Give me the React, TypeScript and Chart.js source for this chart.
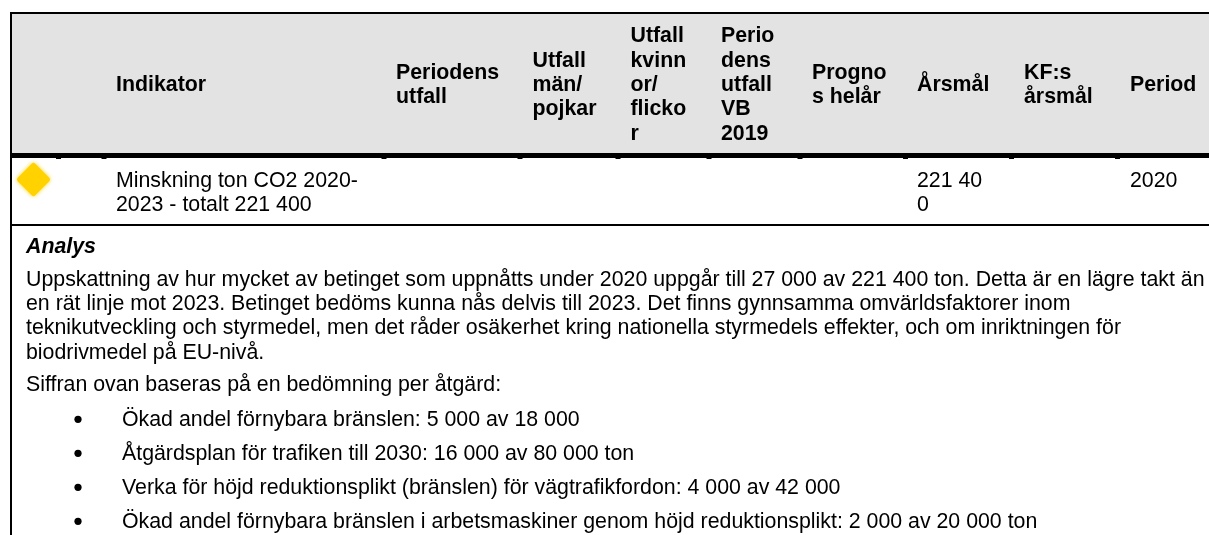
import React, { useEffect, useRef } from "react";
import { Chart, registerables } from "chart.js";

Chart.register(...registerables);

const FONT = '"Liberation Sans", Arial, sans-serif';

const headerLabels = [
  ["Indikator"],
  ["Periodens", "utfall"],
  ["Utfall", "män/", "pojkar"],
  ["Utfall", "kvinn", "or/", "flicko", "r"],
  ["Perio", "dens", "utfall", "VB", "2019"],
  ["Progno", "s helår"],
  ["Årsmål"],
  ["KF:s", "årsmål"],
  ["Period"],
];
const headerX = [116, 396, 532.5, 630.5, 721, 812, 917, 1024, 1130];
const columnTicks = [58.5, 104, 384, 520, 618, 709, 800, 905.5, 1011.5, 1117.5];

const rowIndicator = ["Minskning ton CO2 2020-", "2023 - totalt 221 400"];
const rowGoal = ["221 40", "0"];
const rowPeriod = ["2020"];
const statusPoint = [{ x: 0, y: 0 }];

const analysisTitle = "Analys";
const analysisParagraph = [
  "Uppskattning av hur mycket av betinget som uppnåtts under 2020 uppgår till 27 000 av 221 400 ton. Detta är en lägre takt än",
  "en rät linje mot 2023. Betinget bedöms kunna nås delvis till 2023. Det finns gynnsamma omvärldsfaktorer inom",
  "teknikutveckling och styrmedel, men det råder osäkerhet kring nationella styrmedels effekter, och om inriktningen för",
  "biodrivmedel på EU-nivå.",
];
const basisIntro = "Siffran ovan baseras på en bedömning per åtgärd:";
const bullets = [
  "Ökad andel förnybara bränslen: 5 000 av 18 000",
  "Åtgärdsplan för trafiken till 2030: 16 000 av 80 000 ton",
  "Verka för höjd reduktionsplikt (bränslen) för vägtrafikfordon: 4 000 av 42 000",
  "Ökad andel förnybara bränslen i arbetsmaskiner genom höjd reduktionsplikt: 2 000 av 20 000 ton",
];

const tablePlugin = {
  id: "tablePlugin",
  beforeDatasetsDraw(chart: any) {
    const c = chart.ctx;
    c.save();
    c.fillStyle = "#e3e3e3";
    c.fillRect(11, 13, 1198, 141);
    c.fillStyle = "#000";
    c.fillRect(10, 12, 1199, 2);
    c.fillRect(10, 153, 1199, 5);
    c.fillRect(10, 224, 1199, 2);
    c.fillRect(10, 12, 2, 523);
    columnTicks.forEach((x) => c.fillRect(x - 2.5, 158, 5, 1));
    c.restore();
    c.save();
    c.lineJoin = "round";
    c.shadowColor = "rgba(255,210,0,0.8)";
    c.shadowBlur = 4;
  },
  afterDatasetsDraw(chart: any) {
    chart.ctx.restore();
  },
  afterDraw(chart: any) {
    const c = chart.ctx;
    c.save();
    c.fillStyle = "#000";
    c.textBaseline = "alphabetic";
    c.textAlign = "left";
    const size = 21.33;
    const lead = 24.4;
    const centerY = 91;
    c.font = `bold ${size}px ${FONT}`;
    headerLabels.forEach((lines, i) => {
      const top = centerY - ((lines.length - 1) * lead) / 2;
      lines.forEach((t, j) => c.fillText(t, headerX[i], top + j * lead));
    });
    c.font = `${size}px ${FONT}`;
    rowIndicator.forEach((t, j) => c.fillText(t, 116, 187 + j * 24));
    rowGoal.forEach((t, j) => c.fillText(t, 917, 187 + j * 24));
    rowPeriod.forEach((t, j) => c.fillText(t, 1130, 187 + j * 24));
    c.font = `italic bold ${size}px ${FONT}`;
    c.fillText(analysisTitle, 26, 253);
    c.font = `${size}px ${FONT}`;
    analysisParagraph.forEach((t, j) => c.fillText(t, 26, 286 + j * 24.2));
    c.fillText(basisIntro, 26, 391);
    bullets.forEach((t, j) => {
      const y = 426 + j * 34;
      c.beginPath();
      c.arc(78, y - 6.7, 3.6, 0, Math.PI * 2);
      c.fill();
      c.fillText(t, 122, y);
    });
    c.restore();
  },
};

export default function App() {
  const ref = useRef<HTMLCanvasElement>(null);
  useEffect(() => {
    const chart = new Chart(ref.current!, {
      type: "scatter",
      data: {
        datasets: [
          {
            data: statusPoint,
            pointStyle: "rectRot",
            pointRadius: 14,
            pointBackgroundColor: "#ffd200",
            pointBorderWidth: 5,
            pointBorderColor: "#ffd200",
          },
        ],
      },
      options: {
        animation: false,
        responsive: false,
        layout: { padding: 0, autoPadding: false },
        plugins: { legend: { display: false }, tooltip: { enabled: false } },
        scales: {
          x: { type: "linear", display: false, bounds: "data", min: -0.335, max: 11.755 },
          y: { type: "linear", display: false, bounds: "data", reverse: true, min: -1.795, max: 3.555 },
        },
      },
      plugins: [tablePlugin],
    } as any);
    return () => chart.destroy();
  }, []);
  return (
    <div style={{ position: "fixed", left: 0, top: 0, width: 1209, height: 535, background: "#fff" }}>
      <canvas ref={ref} width={1209} height={535} style={{ display: "block" }} />
    </div>
  );
}
